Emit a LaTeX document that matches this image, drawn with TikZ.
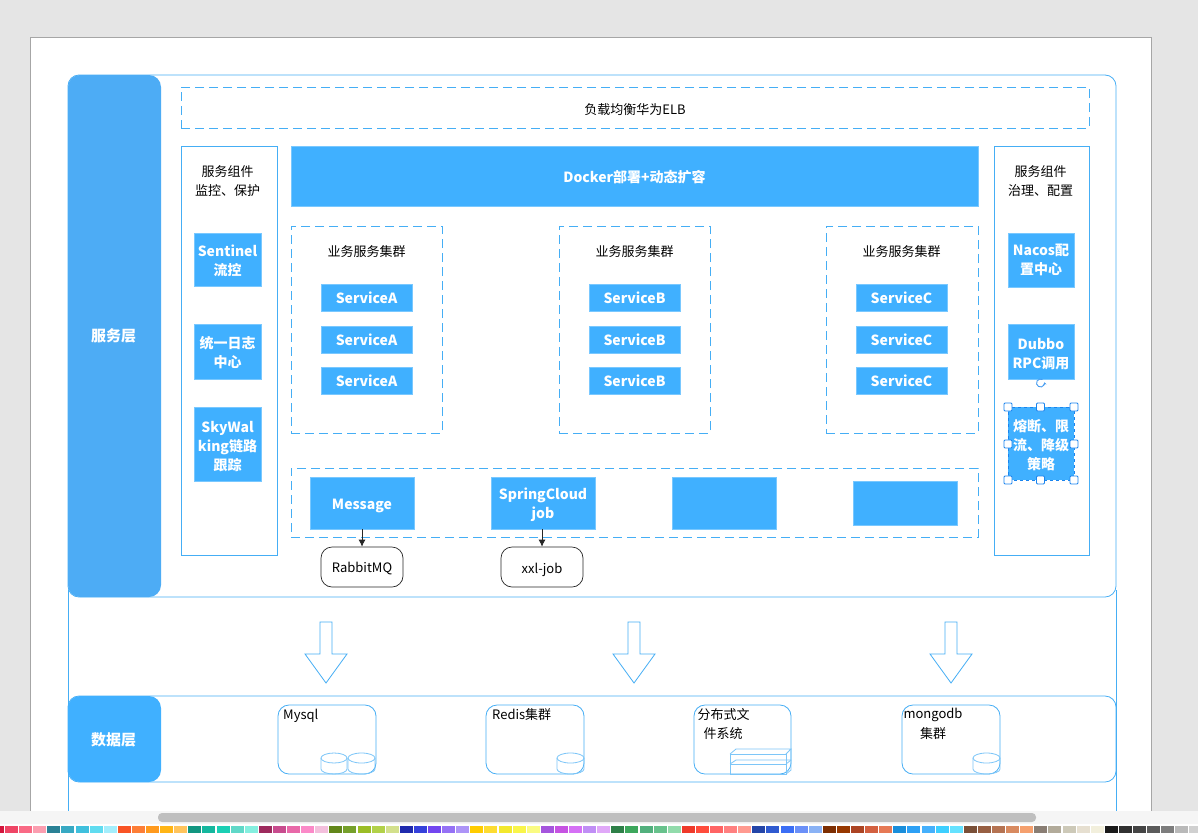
\documentclass[tikz,border=0pt]{standalone}
\usepackage{fontspec}
\setmainfont{Noto Sans CJK SC}
\usetikzlibrary{arrows.meta}
\definecolor{blu}{HTML}{40B0FF}
\definecolor{ln}{HTML}{45AEF5}
\definecolor{band}{HTML}{4DACF5}
\definecolor{sel}{HTML}{1A84EE}
\tikzset{
 txt/.style={font=\fontsize{13}{19}\selectfont,text=black,align=center,inner sep=0pt},
 fillbox/.style={fill=blu,draw=blu!70!white,line width=.6pt,text=white,align=center,inner sep=1pt,font=\fontsize{14}{19}\selectfont\bfseries},
 oneline/.style={text height=14pt,text depth=2pt},
 plainbox/.style={draw=ln,line width=.8pt,inner sep=0pt},
 dashbox/.style={draw=ln,line width=.8pt,dash pattern=on 9pt off 5pt,inner sep=0pt},
 roundbox/.style={draw=ln,line width=.8pt,rounded corners=11pt,inner sep=0pt},
 blackbox/.style={draw=black!85,line width=.7pt,rounded corners=11pt,inner sep=0pt,font=\fontsize{13}{19}\selectfont,align=center,text height=13pt,text depth=3pt},
 flow/.style={-{Latex[length=7pt,width=7pt]},draw=black!85,line width=.8pt},
 hollow/.style={draw=ln,line width=.8pt,fill=white},
 cyl/.style={draw=ln!70!white,line width=.8pt},
 handle/.style={draw=sel,fill=white,line width=.8pt,minimum size=8pt,inner sep=0pt,rounded corners=1pt},
 bandlabel/.style={txt,text=white,font=\fontsize{15}{19}\selectfont\bfseries},
}
\newcommand\boxat[6]{\node[#2,minimum width={(#5-#3)*1pt},minimum height={(#6-#4)*1pt}] (#1) at ({(#3+#5)/2},{(#4+#6)/2})}
\newcommand\dbcyl[3]{% left, width, top
 \draw[cyl] (#1,#3+5) -- (#1,#3+16) arc[start angle=180,end angle=360,x radius=#2/2*1pt,y radius=5pt] -- (#1+#2,#3+5);
 \draw[cyl] (#1+#2/2,#3+5) ellipse[x radius=#2/2*1pt,y radius=5pt];
}
\newcommand\hollowdown[1]{%
 \draw[hollow] (#1-6,622) -- (#1+6,622) -- (#1+6,654) -- (#1+21,654) -- (#1,683) -- (#1-21,654) -- (#1-6,654) -- cycle;
}
\begin{document}
\begin{tikzpicture}[x=1pt,y=-1pt]
\useasboundingbox (0,0) rectangle (1198,833);
% application chrome
\fill[black!10] (0,0) rectangle (1198,833);
\draw[fill=white,draw=black!35,line width=.7pt] (30,37) rectangle (1151,811);
\fill[black!4] (0,811) rectangle (1198,825);
\fill[white] (0,824) rectangle (1198,833);
\fill[black!25,rounded corners=4pt] (158,813) rectangle (1036,822);
\def\palA{D3163C,EF4565,F96A85,FB9EB0,2A8195,38A9C3,40C0DD,60DCF0,A4EEFC,F95425,FD7E37,FF9A1E,FFB516,FFC45C,129680,15B79E,1BCFB4,60D8C8,85EFDF,9D2A5D,C84C8E,E868A8,FB8AC8,F3BFDC,62871A,76A02B,9BBD26,B2D149,D3E08C,1F2AAD,3541DB,7346F0,9571F5,AD94F7,FFCC00,FDDC32,F3E82D,F9F54A,FAFB82,A555DD,C653E2,D570F5,C08EF5,E0A8F8,2E8048,3DA75C,52B07D,68C28C,92DBAB,EF3A2A,FF4C3C,FF6464,FF8080,FF9A90,2445A8,2F5AD0,3B6EF5,6B90F8,8AB2F5,7D2E02,973800,AC4423,D36040,E67955,1A8EDB,2DA0F5,45B0FC,3DCFFF,65E2FF,7A5038,975F42,B57352,D88A60,F5A06E,8A7E74,B2AB9A,CDC9B8,E6DFD0,F2EFDC,1A1A1A,313131,454545,5B5B5B,7D7D7D,B9B9B9,D0D0D0}
\foreach \c [count=\i from 0] in \palA {
 \definecolor{pc}{HTML}{\c}
 \fill[pc] ({-9.1+14.1*\i},825.5) rectangle ({-9.1+14.1*\i+13},833);
}
% outer frame
\draw[ln,line width=.8pt] (68,590) -- (68,811) (1116,590) -- (1116,811);
\boxat{service}{roundbox}{68}{75}{1116}{597} {};
\fill[band] (80,75) -- (149,75) arc[start angle=-90,end angle=0,radius=12] -- (161,585) arc[start angle=0,end angle=90,radius=12] -- (80,597) arc[start angle=90,end angle=180,radius=12] -- (68,87) arc[start angle=180,end angle=270,radius=12] -- cycle;
\node[bandlabel] (svclabel) at (113.5,336) {服务层};
\boxat{elb}{dashbox,txt,text height=16pt,text depth=2pt}{181}{87}{1089}{128} {负载均衡华为ELB};
\boxat{leftpanel}{plainbox}{181}{146}{277}{555} {};
\boxat{rightpanel}{plainbox}{994}{146}{1089}{555} {};
\node[txt] (lefttitle) at (227.5,181.5) {服务组件\\监控、保护};
\node[txt] (righttitle) at (1040.5,181.5) {服务组件\\治理、配置};
\boxat{docker}{fillbox,oneline}{291}{146}{978}{206} {Docker部署+动态扩容};
% clusters
\boxat{clA}{dashbox}{291}{226}{442}{433} {};
\boxat{clB}{dashbox}{559}{226}{710}{433} {};
\boxat{clC}{dashbox}{826}{226}{978}{433} {};
\node[txt] (clAt) at (366.5,252) {业务服务集群};
\node[txt] (clBt) at (634.5,252) {业务服务集群};
\node[txt] (clCt) at (901.5,252) {业务服务集群};
\boxat{a1}{fillbox,oneline}{321}{284}{412}{311} {ServiceA};
\boxat{a2}{fillbox,oneline}{321}{326}{412}{353} {ServiceA};
\boxat{a3}{fillbox,oneline}{321}{367}{412}{394} {ServiceA};
\boxat{b1}{fillbox,oneline}{589}{284}{680}{311} {ServiceB};
\boxat{b2}{fillbox,oneline}{589}{326}{680}{353} {ServiceB};
\boxat{b3}{fillbox,oneline}{589}{367}{680}{394} {ServiceB};
\boxat{c1}{fillbox,oneline}{856}{284}{947}{311} {ServiceC};
\boxat{c2}{fillbox,oneline}{856}{326}{947}{353} {ServiceC};
\boxat{c3}{fillbox,oneline}{856}{367}{947}{394} {ServiceC};
% left components
\boxat{sentinel}{fillbox,text height=33pt}{194}{233}{261}{286} {Sentinel\\流控};
\boxat{logc}{fillbox,text height=33pt}{194}{324}{261}{379} {统一日志\\中心};
\boxat{sky}{fillbox,text height=54pt}{194}{407}{261}{481} {SkyWal\\king链路\\跟踪};
% right components
\boxat{nacos}{fillbox,text height=31.3pt}{1008}{233}{1074}{287} {Nacos配\\置中心};
\boxat{dubbo}{fillbox,text height=35pt}{1008}{324}{1074}{379} {Dubbo\\RPC调用};
\boxat{fuse}{fillbox,text height=54pt,draw=sel,dashed,line width=.8pt}{1008}{407}{1074}{480} {熔断、限\\流、降级\\策略};
\foreach \hx/\hy [count=\k] in {1008/407,1040.5/407,1074/407,1008/444,1074/444,1008/480,1040.5/480,1074/480}
 \node[handle] (h\k) at (\hx,\hy) {};
\coordinate (rotc) at (1040.5,383);
\draw[sel!80!white,line width=.9pt,-{Stealth[length=2.5pt,width=3.5pt]}] (rotc) ++(60:4pt) arc[start angle=60,end angle=370,radius=4pt];
% bottom row
\boxat{mw}{dashbox}{291}{468}{978}{537} {};
\boxat{msg}{fillbox,oneline}{310}{477}{414}{529} {Message};
\boxat{sc}{fillbox,text height=35pt}{491}{477}{595}{529} {SpringCloud\\job};
\boxat{blank1}{fillbox}{672}{477}{776}{529} {};
\boxat{blank2}{fillbox}{853}{481}{957}{525} {};
\boxat{rabbit}{blackbox}{321}{547}{403}{587} {RabbitMQ};
\boxat{xxl}{blackbox,text height=14pt,text depth=2pt}{501}{547}{583}{587} {xxl-job};
\draw[flow] (msg.south -| rabbit.north) -- (rabbit.north);
\draw[flow] (sc.south -| xxl.north) -- (xxl.north);
% hollow arrows
\hollowdown{326}
\hollowdown{634}
\hollowdown{951}
% data layer
\boxat{data}{roundbox}{68}{696}{1116}{782} {};
\fill[blu] (80,696) -- (149,696) arc[start angle=-90,end angle=0,radius=12] -- (161,770) arc[start angle=0,end angle=90,radius=12] -- (80,782) arc[start angle=90,end angle=180,radius=12] -- (68,708) arc[start angle=180,end angle=270,radius=12] -- cycle;
\node[bandlabel] (datalabel) at (113.5,739.5) {数据层};
\boxat{mysql}{roundbox}{278}{705}{376}{774} {};
\boxat{redis}{roundbox}{486}{705}{584}{774} {};
\boxat{dfs}{roundbox}{694}{705}{791}{774} {};
\boxat{mongo}{roundbox}{902}{705}{1000}{774} {};
\node[txt,anchor=west] (mysqlt) at (283,715.5) {Mysql};
\node[txt,anchor=west] (redist) at (492,714.5) {Redis集群};
\node[txt] (dfst1) at (723.5,714.5) {分布式文};
\node[txt] (dfst2) at (723,733.5) {件系统};
\node[txt] (mongot1) at (933,714.5) {mongodb};
\node[txt] (mongot2) at (933,733.5) {集群};
\dbcyl{321}{26}{753}
\dbcyl{348}{27}{753}
\dbcyl{557}{27}{753}
\dbcyl{973}{27}{753}
% file-system cuboids
\draw[cyl] (730,754) rectangle (786,764);
\draw[cyl] (730,764) rectangle (786,774);
\draw[cyl] (730,754) -- (736,749) -- (791,749) -- (786,754);
\draw[cyl] (791,749) -- (791,770) -- (786,774);
\draw[cyl] (786,764) -- (791,760);
\draw[cyl] (730,764) -- (736,760) -- (791,760);
\end{tikzpicture}
\end{document}
